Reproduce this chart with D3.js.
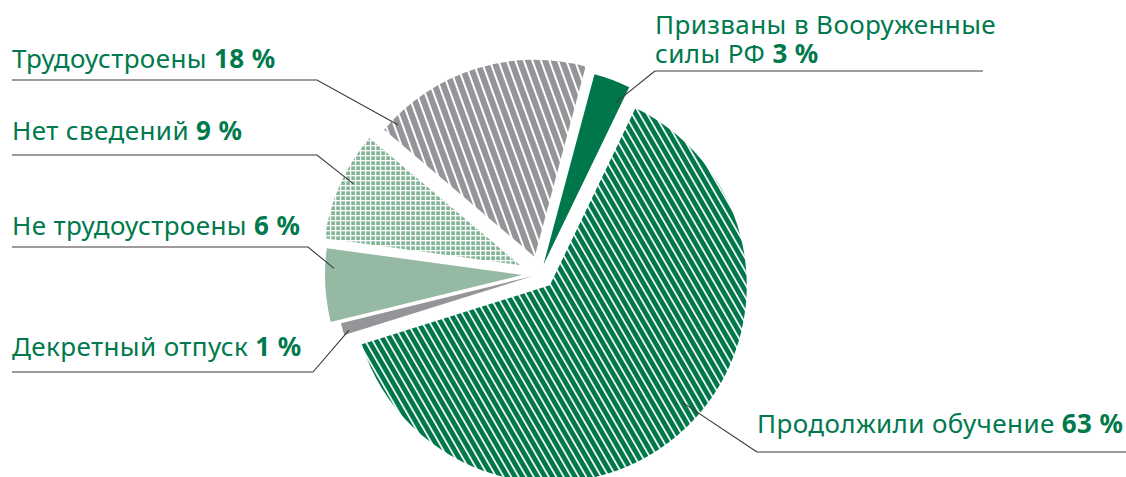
<!DOCTYPE html>
<html>
<head>
<meta charset="utf-8">
<script src="https://cdn.jsdelivr.net/npm/d3@7"></script>
<style>
  html, body { margin: 0; padding: 0; background: #fff; }
  svg { display: block; }
  .lbl { font-family: "Noto Sans", sans-serif; font-size: 26px; letter-spacing: 0.4px; fill: #00794C; }
  .lbl .num { font-weight: 700; }
</style>
</head>
<body>
<svg id="chart" width="1126" height="477"></svg>
<script>
// Graduates' destinations, clockwise from the top
const categories = [
  "Призваны в Вооруженные\nсилы РФ",
  "Продолжили обучение",
  "Декретный отпуск",
  "Не трудоустроены",
  "Нет сведений",
  "Трудоустроены"
];
const shares = [3, 63, 1, 6, 9, 18];
const fills = ["solid-green", "stripe-green", "solid-gray", "solid-sage", "grid-sage", "stripe-gray"];

// Layout: how far each slice is pulled out of the pie, and where its label sits
const explode = [10, 15, 8, 18, 22, 18];
const labelX = [655, 757, 12, 12, 12, 12];
const labelBaseline = [63, 433, 356, 235, 140, 68];   // baseline of the last label line
const lineY = [71, 452, 372, 247, 155, 80];
const lineFrom = [655, 757, 12, 12, 12, 12];
const lineTo = [983, 1126, 313, 308, 317, 317];
const elbowX = [655, 757, 313, 308, 317, 317];
const anchorAngle = [24, 131.4, 253.6, 272, 296, 314];
const anchorFrac = [0.9, 0.9, 0.97, 0.955, 0.94, 0.965];

const cx = 540, cy = 274, R = 197;
const rad = d => d * Math.PI / 180;

const svg = d3.select("#chart");
const defs = svg.append("defs");

const colors = {
  green: "#00774A",
  gray: "#939598",
  sage: "#95B9A3",
  sageDark: "#7FB394"
};

// Diagonal white stripes on dark green
const pg = defs.append("pattern").attr("id", "stripe-green")
  .attr("patternUnits", "userSpaceOnUse").attr("width", 6.5).attr("height", 10)
  .attr("patternTransform", "rotate(-30)");
pg.append("rect").attr("width", 6.5).attr("height", 10).attr("fill", colors.green);
pg.append("rect").attr("x", 0).attr("width", 1.7).attr("height", 10).attr("fill", "#fff");

// Diagonal white stripes on gray
const pgr = defs.append("pattern").attr("id", "stripe-gray")
  .attr("patternUnits", "userSpaceOnUse").attr("width", 8).attr("height", 10)
  .attr("patternTransform", "rotate(-20)");
pgr.append("rect").attr("width", 8).attr("height", 10).attr("fill", colors.gray);
pgr.append("rect").attr("x", 0).attr("width", 2).attr("height", 10).attr("fill", "#fff");

// White grid on sage
const pgrid = defs.append("pattern").attr("id", "grid-sage")
  .attr("patternUnits", "userSpaceOnUse").attr("width", 5).attr("height", 5);
pgrid.append("rect").attr("width", 5).attr("height", 5).attr("fill", "#fff");
pgrid.append("rect").attr("x", 1.3).attr("y", 1.3).attr("width", 3.7).attr("height", 3.7).attr("fill", colors.sageDark);

const fillFor = {
  "solid-green": colors.green,
  "solid-gray": colors.gray,
  "solid-sage": colors.sage,
  "stripe-green": "url(#stripe-green)",
  "stripe-gray": "url(#stripe-gray)",
  "grid-sage": "url(#grid-sage)"
};

const start = rad(15);
const pie = d3.pie().sort(null).value(d => d).startAngle(start).endAngle(start + 2 * Math.PI);
const arcs = pie(shares);
const arc = d3.arc().innerRadius(0).outerRadius(R);

// Each slice's vertex after being pulled out along its middle angle
const vertex = arcs.map((a, i) => {
  const m = (a.startAngle + a.endAngle) / 2;
  return [cx + explode[i] * Math.sin(m), cy - explode[i] * Math.cos(m)];
});

svg.append("g").selectAll("path").data(arcs).join("path")
  .attr("transform", (d, i) => `translate(${vertex[i][0]},${vertex[i][1]})`)
  .attr("d", arc)
  .attr("fill", (d, i) => fillFor[fills[i]]);

// Leader lines: underline under the label, then a diagonal into the slice
const leaders = svg.append("g").attr("fill", "none").attr("stroke", "#3a3a3a").attr("stroke-width", 1.1);
arcs.forEach((a, i) => {
  const t = rad(anchorAngle[i]);
  const ax = vertex[i][0] + anchorFrac[i] * R * Math.sin(t);
  const ay = vertex[i][1] - anchorFrac[i] * R * Math.cos(t);
  leaders.append("polyline")
    .attr("points", [[lineFrom[i], lineY[i]], [elbowX[i], lineY[i]], [ax, ay]].map(p => p.join(",")).join(" "));
  if (lineTo[i] !== elbowX[i]) {
    leaders.append("line")
      .attr("x1", elbowX[i]).attr("y1", lineY[i]).attr("x2", lineTo[i]).attr("y2", lineY[i]);
  }
});

// Labels: category name plus its share in bold
const lineGap = 29;
arcs.forEach((a, i) => {
  const lines = categories[i].split("\n");
  const text = svg.append("text").attr("class", "lbl")
    .attr("x", labelX[i])
    .attr("y", labelBaseline[i] - (lines.length - 1) * lineGap);
  lines.forEach((ln, k) => {
    const last = k === lines.length - 1;
    text.append("tspan")
      .attr("x", labelX[i])
      .attr("dy", k === 0 ? 0 : lineGap)
      .text(last ? ln + " " : ln);
    if (last) {
      text.append("tspan").attr("class", "num").text(`${shares[i]} %`);
    }
  });
});
</script>
</body>
</html>
